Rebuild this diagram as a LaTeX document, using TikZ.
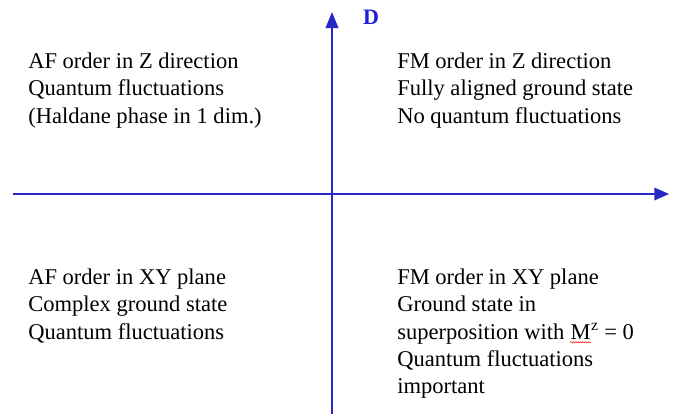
\documentclass[tikz,border=0pt]{standalone}
\usepackage{fontspec}
\usetikzlibrary{arrows.meta, decorations.pathmorphing}
\setmainfont{Liberation Serif}
\definecolor{AxisBlue}{RGB}{40,40,200}
\definecolor{LabelBlue}{RGB}{30,30,215}
\newcommand{\wavyM}{\tikz[baseline=(wm.base)]{\node[inner sep=0pt] (wm) {M};
    \draw[red, line width=0.4pt, decorate, decoration={snake, amplitude=0.45pt, segment length=1.8pt}]
    ([yshift=-2.2pt]wm.south west) -- ([yshift=-2.2pt]wm.south east);}}

\begin{document}
\begin{tikzpicture}[x=0.75pt, y=-0.75pt]
        \useasboundingbox (0,0) rectangle (685,414);
        \tikzset{phase/.style={anchor=north west, inner sep=0pt, align=left,
                font=\fontsize{16.9}{20.3}\selectfont}}
        % axes
        \coordinate (xl) at (13,194);
        \coordinate (xr) at (669,194);
        \coordinate (yb) at (332,414);
        \coordinate (yt) at (332,12);
        \draw[AxisBlue, line width=1pt, -{Triangle[length=11pt,width=9.5pt]}] (xl) -- (xr);
        \draw[AxisBlue, line width=1pt, -{Triangle[length=12pt,width=9.5pt]}] (yb) -- (yt);
        \node[LabelBlue, font=\fontsize{16.5}{19}\selectfont\bfseries] (dlab) at (371,17) {D};
        % quadrants
        \node[phase] (afz) at (28,53) {AF order in Z direction\\Quantum fluctuations\\(Haldane phase in 1 dim.)};
        \node[phase] (fmz) at (397,53) {FM order in Z direction\\Fully aligned ground state\\No quantum fluctuations};
        \node[phase] (afxy) at (28,269) {AF order in XY plane\\Complex ground state\\Quantum fluctuations};
        \node[phase] (fmxy) at (397,269) {FM order in XY plane\\Ground state in\\superposition with \wavyM\textsuperscript{z} = 0\\Quantum fluctuations\\important};
    \end{tikzpicture}
\end{document}
